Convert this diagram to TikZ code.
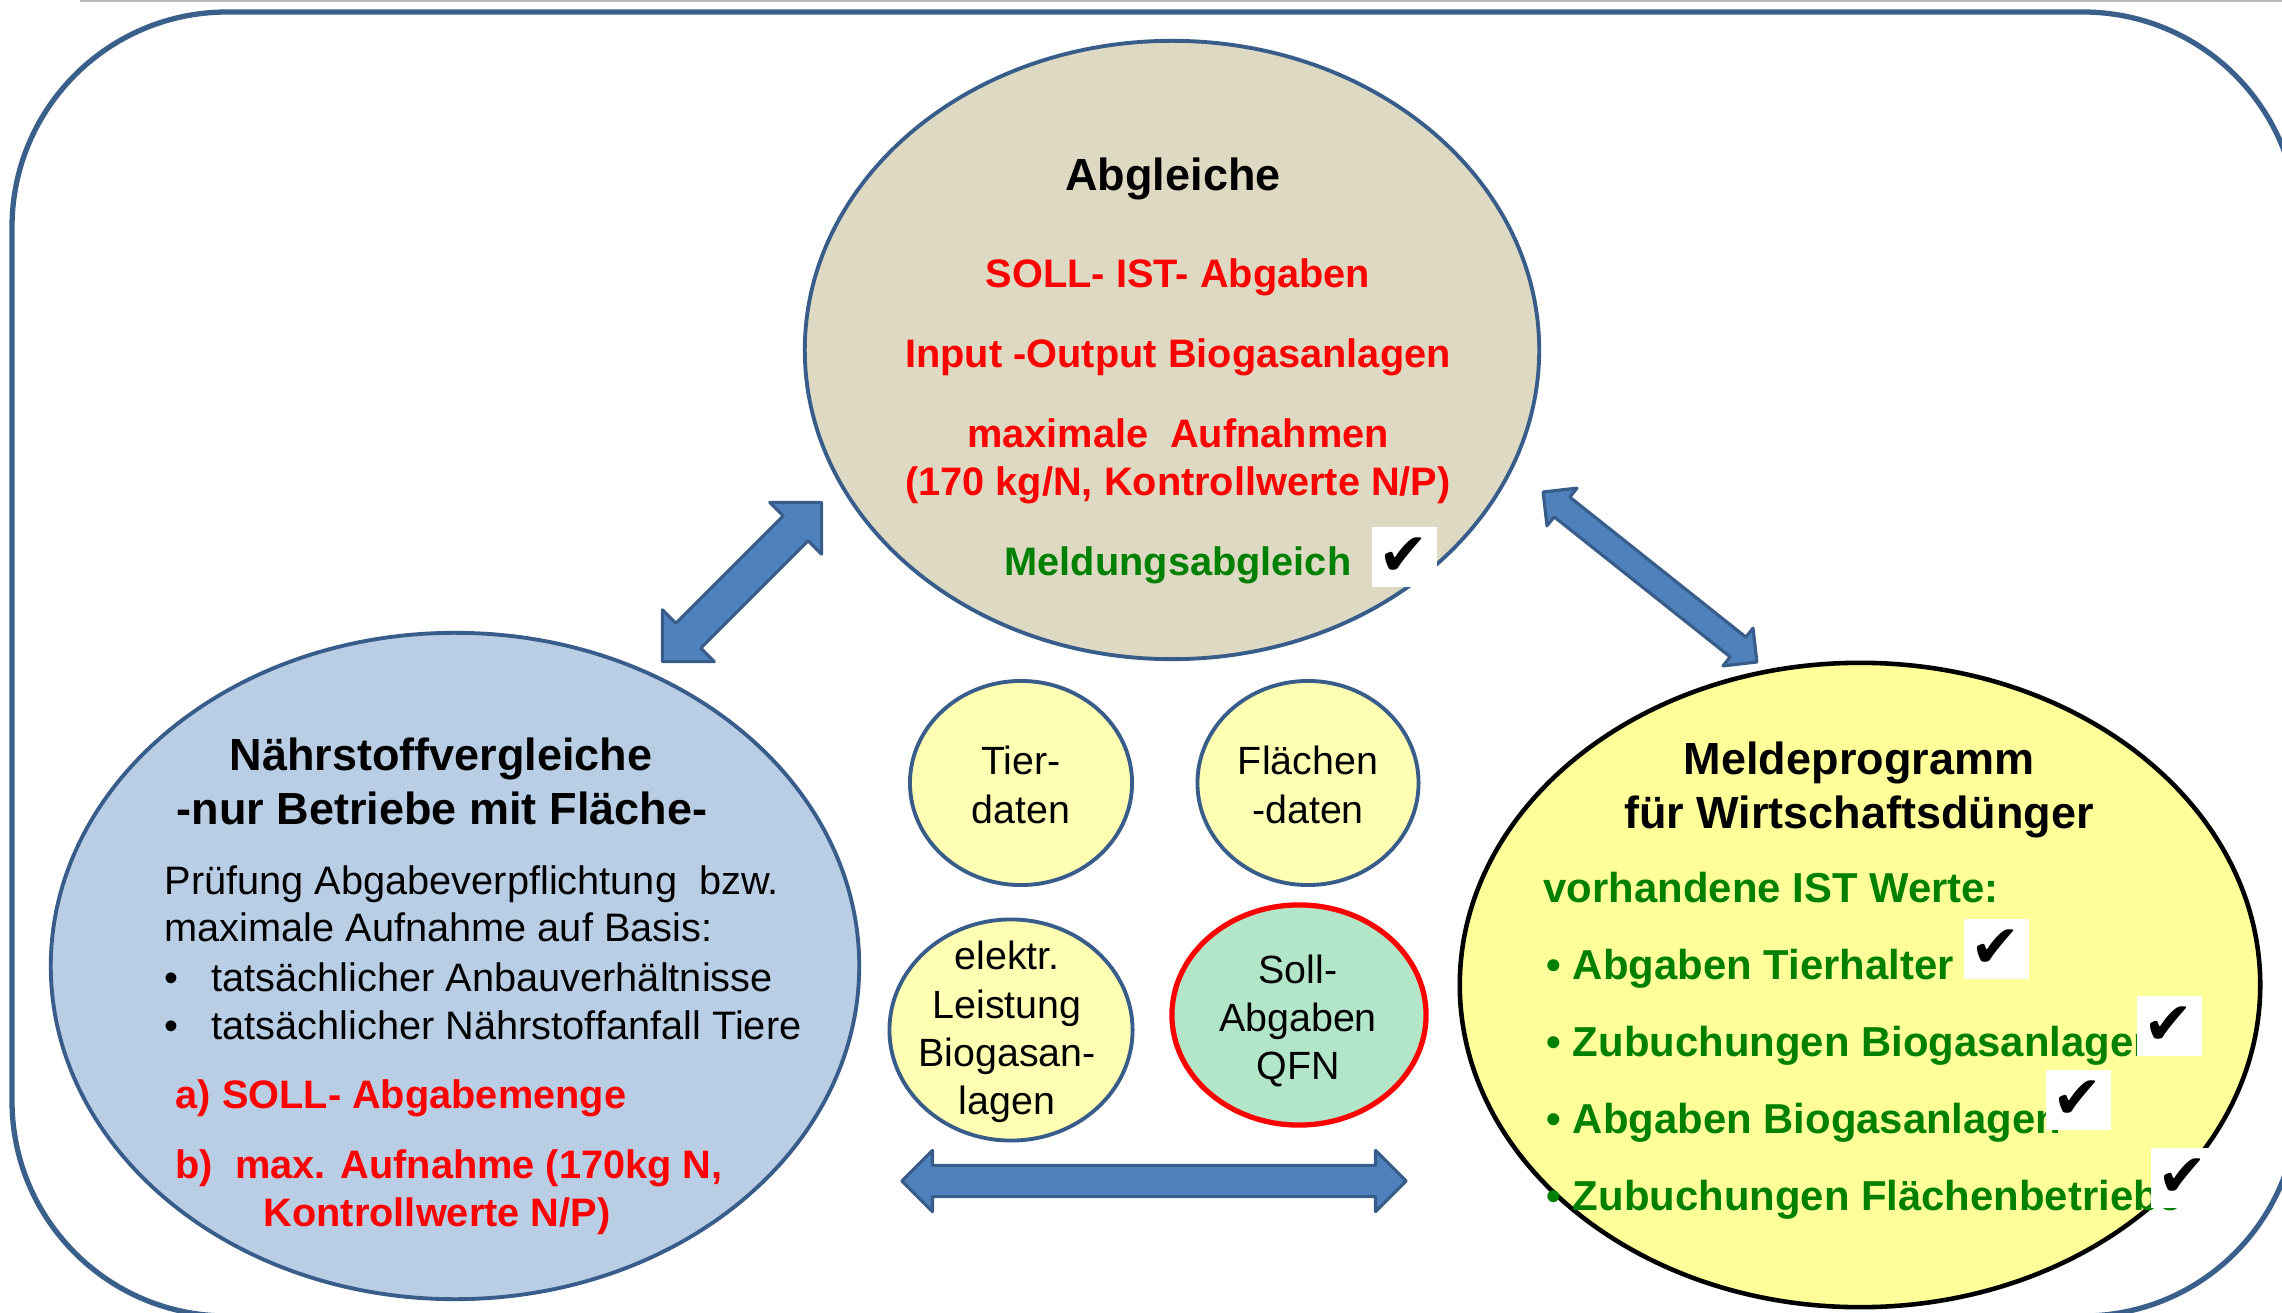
\documentclass[tikz,border=0pt]{standalone}
\usepackage{fontspec}
\setmainfont{Liberation Sans}
\newfontfamily\chkfont{DejaVu Sans}
\usetikzlibrary{shapes.geometric,shapes.arrows}

\definecolor{frameblue}{HTML}{3A5F8B}
\definecolor{edgeblue}{HTML}{385D8A}
\definecolor{arrowblue}{HTML}{4F81BD}
\definecolor{tanfill}{HTML}{DDD9C3}
\definecolor{bluefill}{HTML}{B9CDE5}
\definecolor{yelfill}{HTML}{FFFF99}
\definecolor{paleyel}{HTML}{FFFFB3}
\definecolor{mintfill}{HTML}{B3E6C9}
\definecolor{okgreen}{HTML}{008000}

\newcommand\blt{\makebox[0.47cm][l]{\textbullet}}

\begin{document}
\begin{tikzpicture}[
    x=0.01cm, y=-0.01cm,
    bigell/.style={ellipse, draw=edgeblue, line width=1.1pt, inner sep=0pt},
    datacirc/.style={ellipse, draw=edgeblue, line width=1.1pt, fill=paleyel, inner sep=0pt},
    datatxt/.style={inner sep=0pt, align=center, font=\fontsize{11.2}{13.7}\selectfont},
    headtxt/.style={anchor=base, inner sep=0pt, font=\fontsize{12.8}{15.4}\selectfont\bfseries},
    plaintxt/.style={anchor=base west, inner sep=0pt, font=\fontsize{11.3}{13.7}\selectfont},
    redtxt/.style={anchor=base, inner sep=0pt, text=red, font=\fontsize{11.3}{13.7}\selectfont\bfseries},
    greentxt/.style={anchor=base west, inner sep=0pt, text=okgreen, font=\fontsize{11.9}{14}\selectfont\bfseries},
    chkbox/.style={fill=white, minimum width=0.65cm, minimum height=0.6cm, inner sep=0pt,
                   font=\chkfont\fontsize{17}{17}\selectfont},
    blockarr/.style={double arrow, fill=arrowblue, draw=edgeblue, line width=0.9pt, line join=round,
                     double arrow tip angle=90, inner sep=0pt, minimum width=0pt}
  ]
    \useasboundingbox (0,0) rectangle (2282,1313);
    \clip (0,0) rectangle (2282,1313);

    %--- frame ---
    \draw[frameblue, line width=1.5pt, rounded corners=2.15cm] (12,12) rectangle (2298,1316);
    \draw[black!27, line width=0.5pt] (80,1) -- (2282,1);

    %--- three big ellipses ---
    \node[bigell, fill=tanfill, minimum width=7.34cm, minimum height=6.18cm]  (abgl)  at (1172,350) {};
    \node[bigell, fill=bluefill, minimum width=8.08cm, minimum height=6.66cm] (naehr) at (455,966)  {};
    \node[bigell, fill=yelfill, draw=black, line width=1.3pt,
          minimum width=8.0cm, minimum height=6.44cm]                        (meld)  at (1860,985) {};

    %--- data circles ---
    \node[datacirc, minimum width=2.22cm, minimum height=2.04cm] (tier) at (1021,783)  {};
    \node[datacirc, minimum width=2.21cm, minimum height=2.04cm] (flae) at (1308,783)  {};
    \node[datacirc, minimum width=2.43cm, minimum height=2.21cm] (elek) at (1011,1030) {};
    \node[datacirc, draw=red, line width=1.5pt, fill=mintfill,
          minimum width=2.54cm, minimum height=2.2cm]            (soll) at (1299,1015) {};
    \node[datatxt] (tiertxt) at (1021,785)  {Tier-\\daten};
    \node[datatxt] (flaetxt) at (1308,785)  {Flächen\\-daten};
    \node[datatxt] (elektxt) at (1007,1032) {elektr.\\Leistung\\Biogasan-\\lagen};
    \node[datatxt] (solltxt) at (1298,1021) {Soll-\\Abgaben\\QFN};

    %--- block arrows ---
    \node[blockarr, rotate=45, minimum height=2.25cm, inner ysep=0.16cm,
          double arrow head extend=0.19cm]  (arrL) at (742,582)  {};
    \node[blockarr, rotate=-38.5, minimum height=2.73cm, inner ysep=0.11cm,
          double arrow head extend=0.115cm] (arrR) at (1650,577) {};
    \node[blockarr, minimum height=5.04cm, inner ysep=0.14cm,
          double arrow head extend=0.15cm]  (arrB) at (1154,1181) {};

    %--- Abgleiche ---
    \node[headtxt]  (abgltitle) at (1173,191) {Abgleiche};
    \node[redtxt]   (sollist)   at (1178,288) {SOLL- IST- Abgaben};
    \node[redtxt]   (inout)     at (1178,368) {Input -Output Biogasanlagen};
    \node[redtxt]   (maxauf)    at (1178,448) {maximale\ \ Aufnahmen};
    \node[redtxt]   (kgn)       at (1178,496) {(170 kg/N, Kontrollwerte N/P)};
    \node[greentxt, anchor=base, font=\fontsize{11.3}{13.7}\selectfont\bfseries]
                    (meldabgl)  at (1178,576) {Meldungsabgleich};
    \node[chkbox]   (chk0)      at (1404,557) {✔};

    %--- Naehrstoffvergleiche ---
    \node[headtxt]  (naehrtitle) at (441,770) {Nährstoffvergleiche};
    \node[headtxt]  (naehrsub)   at (442,824) {-nur Betriebe mit Fläche-};
    \node[plaintxt] (pruef)      at (164,894) {Prüfung Abgabeverpflichtung\ \ bzw.};
    \node[plaintxt] (basis)      at (164,941) {maximale Aufnahme auf Basis:};
    \node[plaintxt] (anbau)      at (164,991) {\blt tatsächlicher Anbauverhältnisse};
    \node[plaintxt] (anfall)     at (164,1039) {\blt tatsächlicher Nährstoffanfall Tiere};
    \node[redtxt, anchor=base west] (solla) at (175,1108) {a) SOLL- Abgabemenge};
    \node[redtxt, anchor=base west] (maxb)  at (175,1178) {b)\ \ max. Aufnahme (170kg N,};
    \node[redtxt, anchor=base west] (kontr) at (263,1226) {Kontrollwerte N/P)};

    %--- Meldeprogramm ---
    \node[headtxt]  (meldtitle) at (1859,774) {Meldeprogramm};
    \node[headtxt]  (meldsub)   at (1859,828) {für Wirtschaftsdünger};
    \node[greentxt] (vorh)      at (1543,902)  {vorhandene IST Werte:};
    \node[greentxt] (abgth)     at (1546,979)  {\textbullet\ Abgaben Tierhalter};
    \node[greentxt] (zubbg)     at (1546,1056) {\textbullet\ Zubuchungen Biogasanlagen};
    \node[greentxt] (abgbg)     at (1546,1133) {\textbullet\ Abgaben Biogasanlagen};
    \node[greentxt] (zubfl)     at (1546,1210) {\textbullet\ Zubuchungen Flächenbetriebe};
    \node[chkbox]   (chk1)      at (1996,949)  {✔};
    \node[chkbox]   (chk2)      at (2169,1026) {✔};
    \node[chkbox]   (chk3)      at (2078,1100) {✔};
    \node[chkbox]   (chk4)      at (2183,1178) {✔};
\end{tikzpicture}
\end{document}
